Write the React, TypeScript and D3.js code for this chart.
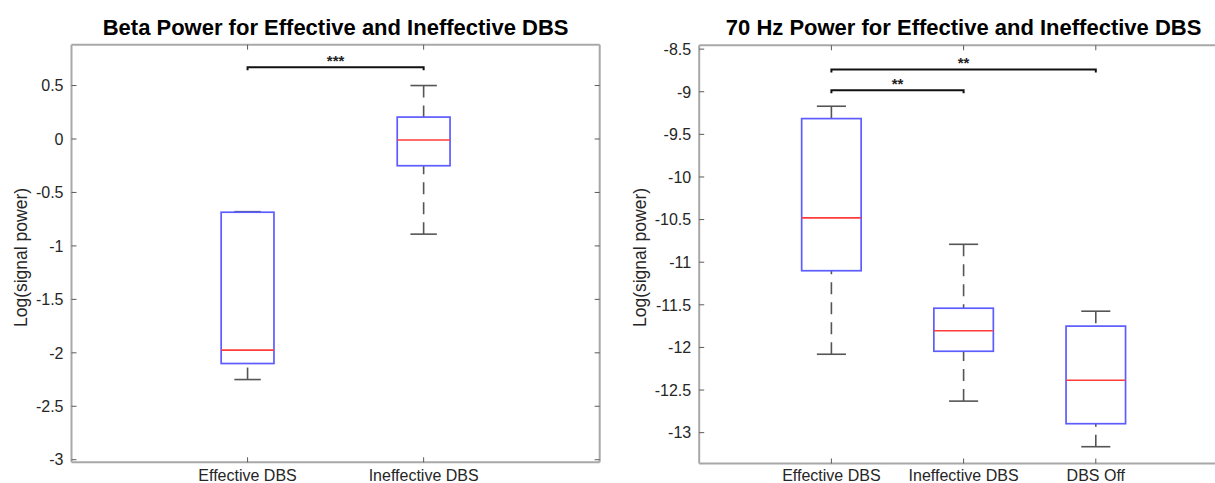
import React, { useLayoutEffect } from "react";
import * as d3 from "d3";

// ---------- data ----------
const betaCategories = ["Effective DBS", "Ineffective DBS"];
const betaLowerWhisker = [-2.25, -0.89];
const betaQ1 = [-2.1, -0.25];
const betaMedian = [-1.975, -0.01];
const betaQ3 = [-0.685, 0.205];
const betaUpperWhisker = [-0.68, 0.5];
const betaYTicks = [0.5, 0, -0.5, -1, -1.5, -2, -2.5, -3];
const betaYTickLabels = ["0.5", "0", "-0.5", "-1", "-1.5", "-2", "-2.5", "-3"];
const betaSigFrom = [0];
const betaSigTo = [1];
const betaSigLevel = [0.67];
const betaSigLabel = ["***"];

const hzCategories = ["Effective DBS", "Ineffective DBS", "DBS Off"];
const hzLowerWhisker = [-12.08, -12.63, -13.165];
const hzQ1 = [-11.1, -12.045, -12.895];
const hzMedian = [-10.48, -11.805, -12.385];
const hzQ3 = [-9.315, -11.54, -11.75];
const hzUpperWhisker = [-9.17, -10.79, -11.575];
const hzYTicks = [-8.5, -9, -9.5, -10, -10.5, -11, -11.5, -12, -12.5, -13];
const hzYTickLabels = ["-8.5", "-9", "-9.5", "-10", "-10.5", "-11", "-11.5", "-12", "-12.5", "-13"];
const hzSigFrom = [0, 0];
const hzSigTo = [2, 1];
const hzSigLevel = [-8.738, -8.981];
const hzSigLabel = ["**", "**"];

const FONT = '"Liberation Sans", Arial, Helvetica, sans-serif';

type PanelProps = {
  title: string;
  categories: string[];
  lo: number[];
  q1: number[];
  med: number[];
  q3: number[];
  hi: number[];
  yTicks: number[];
  yTickLabels: string[];
  yDomain: [number, number];
  xDomain: [number, number];
  left: number;
  right: number;
  top: number;
  bottom: number;
  boxWidth: number;
  capWidth: number;
  sigFrom: number[];
  sigTo: number[];
  sigLevel: number[];
  sigLabel: string[];
  ylabelX: number;
  showRightAxis: boolean;
};

function Panel(p: PanelProps) {
  const x = d3.scaleLinear().domain(p.xDomain).range([p.left, p.right]);
  const y = d3.scaleLinear().domain(p.yDomain).range([p.bottom, p.top]);
  const pos = p.categories.map((_, i) => i + 1);
  const axisColor = "#a8a8a8";
  const tickColor = "#5a5a5a";
  const tickLen = 5;
  const whiskerColor = "#555";
  const titleX = (p.left + p.right) / 2;

  return (
    <g>
      <text
        x={titleX}
        y={35}
        textAnchor="middle"
        fontFamily={FONT}
        fontWeight="bold"
        fontSize={22}
        fill="#000"
      >
        {p.title}
      </text>
      {/* axes box */}
      <line x1={p.left} x2={p.left} y1={p.top} y2={p.bottom} stroke={axisColor} strokeWidth={2} />
      <line x1={p.left} x2={p.right} y1={p.bottom} y2={p.bottom} stroke={axisColor} strokeWidth={2} />
      <line x1={p.left} x2={p.right} y1={p.top} y2={p.top} stroke={axisColor} strokeWidth={2} />
      {p.showRightAxis && (
        <line x1={p.right} x2={p.right} y1={p.top} y2={p.bottom} stroke={axisColor} strokeWidth={2} />
      )}
      {/* y ticks */}
      {p.yTicks.map((t, i) => (
        <g key={"yt" + i}>
          <line x1={p.left} x2={p.left + tickLen} y1={y(t)} y2={y(t)} stroke={tickColor} strokeWidth={1} />
          {p.showRightAxis && (
            <line x1={p.right} x2={p.right - tickLen} y1={y(t)} y2={y(t)} stroke={tickColor} strokeWidth={1} />
          )}
          <text
            x={p.left - 8}
            y={y(t)}
            dy="0.36em"
            textAnchor="end"
            fontFamily={FONT}
            fontSize={16}
            fill="#262626"
          >
            {p.yTickLabels[i]}
          </text>
        </g>
      ))}
      {/* x ticks */}
      {pos.map((v, i) => (
        <g key={"xt" + i}>
          <line x1={x(v)} x2={x(v)} y1={p.bottom} y2={p.bottom - tickLen} stroke={tickColor} strokeWidth={1} />
          <line x1={x(v)} x2={x(v)} y1={p.top} y2={p.top + tickLen} stroke={tickColor} strokeWidth={1} />
          <text
            x={x(v)}
            y={481}
            textAnchor="middle"
            fontFamily={FONT}
            fontSize={16}
            fill="#262626"
          >
            {p.categories[i]}
          </text>
        </g>
      ))}
      {/* y label */}
      <text
        transform={`translate(${p.ylabelX},257.5) rotate(-90)`}
        textAnchor="middle"
        fontFamily={FONT}
        fontSize={17.5}
        fill="#262626"
      >
        Log(signal power)
      </text>
      {/* boxes */}
      {pos.map((v, i) => {
        const cx = x(v);
        const bw = x(v + p.boxWidth / 2) - cx;
        const cw = x(v + p.capWidth / 2) - cx;
        return (
          <g key={"b" + i}>
            <line
              x1={cx}
              x2={cx}
              y1={y(p.hi[i])}
              y2={y(p.q3[i])}
              stroke={whiskerColor}
              strokeWidth={1.6}
              strokeDasharray="12 8"
            />
            <line
              x1={cx}
              x2={cx}
              y1={y(p.lo[i])}
              y2={y(p.q1[i])}
              stroke={whiskerColor}
              strokeWidth={1.6}
              strokeDasharray="12 8"
            />
            <line x1={cx - cw} x2={cx + cw} y1={y(p.hi[i])} y2={y(p.hi[i])} stroke={whiskerColor} strokeWidth={1.6} />
            <line x1={cx - cw} x2={cx + cw} y1={y(p.lo[i])} y2={y(p.lo[i])} stroke={whiskerColor} strokeWidth={1.6} />
            <rect
              x={cx - bw}
              y={y(p.q3[i])}
              width={2 * bw}
              height={y(p.q1[i]) - y(p.q3[i])}
              fill="none"
              stroke="#5c5cff"
              strokeWidth={1.7}
            />
            <line
              x1={cx - bw}
              x2={cx + bw}
              y1={y(p.med[i])}
              y2={y(p.med[i])}
              stroke="#ff3c3c"
              strokeWidth={1.6}
            />
          </g>
        );
      })}
      {/* significance brackets */}
      {p.sigFrom.map((f, i) => {
        const x1 = x(f + 1);
        const x2 = x(p.sigTo[i] + 1);
        const yy = y(p.sigLevel[i]);
        return (
          <g key={"s" + i}>
            <path
              d={`M${x1},${yy + 3}V${yy}H${x2}V${yy + 3}`}
              fill="none"
              stroke="#111"
              strokeWidth={2}
            />
            <text
              x={(x1 + x2) / 2}
              y={yy - 1}
              textAnchor="middle"
              fontFamily={FONT}
              fontSize={15}
              fontWeight="bold"
              fill="#222"
            >
              {p.sigLabel[i]}
            </text>
          </g>
        );
      })}
    </g>
  );
}

export default function App() {
  useLayoutEffect(() => {
    document.body.style.margin = "0";
    document.body.style.overflow = "hidden";
  }, []);
  return (
    <svg width={1215} height={483} style={{ display: "block", background: "#fff" }}>
      <rect x={0} y={0} width={1215} height={483} fill="#fff" />
      <Panel
        title="Beta Power for Effective and Ineffective DBS"
        categories={betaCategories}
        lo={betaLowerWhisker}
        q1={betaQ1}
        med={betaMedian}
        q3={betaQ3}
        hi={betaUpperWhisker}
        yTicks={betaYTicks}
        yTickLabels={betaYTickLabels}
        yDomain={[-3.024, 0.882]}
        xDomain={[0, 3]}
        left={71.5}
        right={599.7}
        top={44.7}
        bottom={462.3}
        boxWidth={0.3}
        capWidth={0.15}
        sigFrom={betaSigFrom}
        sigTo={betaSigTo}
        sigLevel={betaSigLevel}
        sigLabel={betaSigLabel}
        ylabelX={27}
        showRightAxis={true}
      />
      <Panel
        title="70 Hz Power for Effective and Ineffective DBS"
        categories={hzCategories}
        lo={hzLowerWhisker}
        q1={hzQ1}
        med={hzMedian}
        q3={hzQ3}
        hi={hzUpperWhisker}
        yTicks={hzYTicks}
        yTickLabels={hzYTickLabels}
        yDomain={[-13.362, -8.455]}
        xDomain={[0, 4]}
        left={699.2}
        right={1228}
        top={45.3}
        bottom={463.5}
        boxWidth={0.45}
        capWidth={0.22}
        sigFrom={hzSigFrom}
        sigTo={hzSigTo}
        sigLevel={hzSigLevel}
        sigLabel={hzSigLabel}
        ylabelX={646}
        showRightAxis={false}
      />
    </svg>
  );
}
